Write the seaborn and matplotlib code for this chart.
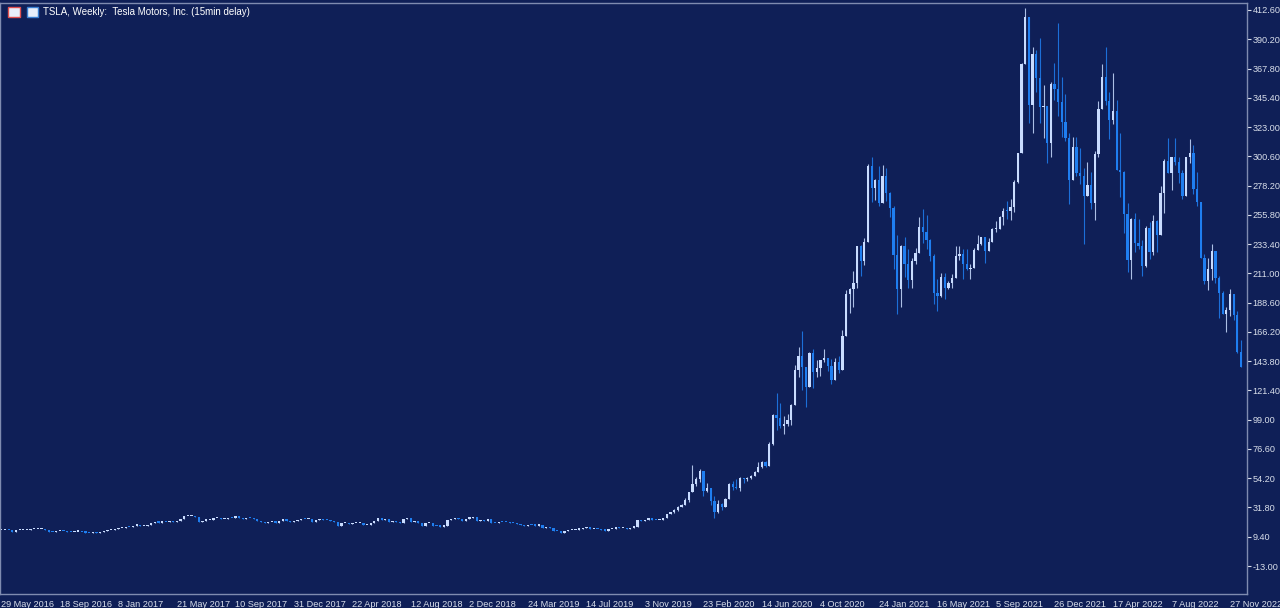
import matplotlib
matplotlib.use("Agg")
import matplotlib.pyplot as plt
import seaborn as sns
import numpy as np
from matplotlib.patches import Rectangle

# weekly closes, split adjusted, from week of 29 May 2016
closes_2016 = [14.5, 14.6, 14.4, 12.9, 14.4, 14.4, 14.6, 14.8, 15.0, 15.0, 15.0, 15.0, 14.2, 13.3, 13.1, 13.7,
               13.7, 13.6, 13.1, 13.0, 13.3, 13.3, 12.7, 12.6, 12.4, 13.1, 12.1, 12.8, 13.5, 14.2, 14.2]
closes_2017 = [15.3, 15.9, 16.3, 16.8, 16.7, 17.9, 18.1, 17.5, 17.5, 18.5, 20.1, 20.3, 20.2, 20.9, 20.6, 21.6,
               20.7, 21.8, 22.6, 24.9, 24.9, 25.0, 24.2, 20.8, 21.8, 21.9, 22.4, 23.8, 23.9, 23.1, 23.2, 23.7,
               23.4, 25.3, 23.4, 22.7, 23.8, 23.7, 23.0, 21.4, 20.3, 20.1, 20.8, 21.0, 20.2, 21.1, 22.9, 21.8, 20.7]
closes_2018 = [21.2, 22.4, 23.3, 22.7, 22.9, 20.7, 22.4, 23.3, 22.4, 22.1, 21.4, 20.3, 17.7, 19.9, 20.0, 19.3,
               19.6, 19.7, 20.1, 18.4, 18.5, 19.8, 21.2, 23.9, 22.2, 22.9, 20.6, 21.2, 20.9, 19.9, 23.2, 23.7,
               20.4, 21.5, 20.1, 17.5, 19.8, 19.9, 17.6, 17.5, 17.2, 17.3, 22.0, 23.1, 23.4, 23.0, 21.8, 23.3,
               23.9, 24.4, 21.3, 22.2]
closes_2019 = [21.2, 23.1, 20.1, 19.8, 20.9, 20.7, 20.5, 19.7, 19.6, 19.0, 18.4, 17.7, 18.7, 18.5, 17.9, 18.3,
               15.8, 17.1, 15.9, 14.1, 13.9, 12.4, 13.6, 14.3, 14.7, 14.9, 15.5, 16.3, 17.1, 15.2, 15.6, 15.1,
               14.6, 14.1, 15.1, 15.2, 16.5, 16.0, 16.1, 15.5, 16.4, 17.1, 21.9, 21.1, 22.4, 23.5, 22.2, 22.0,
               22.4, 23.8, 26.9, 28.7]
closes_2020 = [29.5, 31.9, 34.0, 37.6, 43.4, 49.9, 53.3, 60.1, 44.5, 46.9, 36.4, 28.5, 34.3, 32.0, 38.2, 50.1,
               47.7, 46.8, 54.6, 53.3, 54.7, 55.7, 59.0, 62.4, 66.7, 63.7, 80.6, 102.9, 100.1, 94.5, 95.4, 99.0,
               110.0, 137.3, 147.6, 139.4, 124.2, 150.4, 135.8, 138.4, 144.9, 146.6, 140.4, 129.3, 143.3, 136.7,
               163.2, 195.3, 199.3, 203.3, 231.7, 220.6, 235.2]
closes_2021 = [293.3, 276.0, 282.2, 264.5, 285.9, 272.8, 260.9, 225.2, 199.3, 231.6, 218.3, 206.2, 220.6, 226.5,
               246.3, 243.0, 236.5, 224.0, 196.2, 193.5, 208.4, 199.7, 203.4, 207.8, 224.5, 226.0, 218.0, 214.4,
               215.4, 229.1, 233.3, 239.1, 227.9, 235.3, 244.6, 245.1, 253.9, 258.5, 258.4, 262.0, 281.0, 303.2,
               371.3, 407.4, 339.5, 379.0, 360.6, 338.3, 339.0, 310.9, 355.7, 352.3]
closes_2022 = [342.3, 326.6, 314.6, 282.1, 308.0, 287.6, 285.7, 269.9, 279.0, 265.1, 302.6, 336.9, 361.5, 342.7,
               328.3, 335.0, 290.3, 288.5, 256.5, 221.3, 252.8, 234.5, 232.2, 216.8, 245.7, 227.3, 250.8, 240.1,
               272.2, 297.1, 288.2, 300.0, 296.1, 288.1, 270.2, 299.7, 303.4, 275.3, 265.3, 223.1, 205.0, 214.4,
               228.5, 207.5, 196.0, 180.2, 182.9, 194.9, 179.0, 151.0, 139.0]

# weekly highs / lows from Jan 2020 on (earlier wicks are below one pixel)
highs_2020_22 = [30.3, 33.2, 34.3, 39.0, 43.5, 64.6, 55.0, 61.4, 58.5, 50.8, 45.6, 40.6, 37.7, 35.6, 39.4, 50.5,
                 52.0, 53.9, 55.0, 54.3, 55.5, 56.5, 60.0, 66.3, 67.0, 67.3, 81.6, 103.0, 119.7, 112.0, 101.5,
                 103.3, 111.0, 140.8, 154.6, 166.7, 134.0, 150.9, 153.0, 144.9, 144.9, 153.1, 146.6, 145.1, 146.6,
                 147.4, 167.5, 198.6, 199.6, 212.5, 231.7, 232.6, 238.3,
                 294.8, 300.1, 283.3, 293.5, 293.6, 291.7, 273.0, 262.4, 240.4, 233.0, 238.7, 229.4, 223.1, 230.4,
                 253.9, 260.3, 256.0, 237.0, 226.2, 206.8, 211.3, 211.0, 204.9, 210.2, 232.3, 231.7, 229.5, 230.0,
                 217.8, 230.2, 240.7, 239.2, 238.6, 237.7, 246.0, 251.0, 254.6, 260.7, 266.3, 268.0, 282.5, 303.3,
                 371.7, 414.5, 397.4, 384.0, 381.7, 390.9, 355.0, 336.7, 357.7, 372.3,
                 402.7, 361.4, 348.2, 318.5, 315.4, 315.4, 307.0, 291.7, 296.6, 288.7, 305.0, 342.8, 371.6, 384.3,
                 350.0, 364.1, 344.0, 318.5, 289.0, 264.6, 253.5, 257.3, 252.4, 236.7, 247.4, 250.0, 255.6, 252.0,
                 277.7, 298.3, 314.7, 300.4, 314.7, 300.0, 290.0, 299.9, 314.0, 309.2, 288.7, 264.6, 226.0, 222.9,
                 233.8, 227.9, 208.9, 197.5, 185.2, 198.9, 183.8, 182.5, 160.0]
lows_2020_22 = [27.9, 29.3, 32.2, 34.4, 36.0, 44.5, 48.2, 51.6, 40.8, 43.7, 33.6, 23.4, 27.9, 29.8, 33.5, 38.8,
                45.2, 46.0, 44.4, 50.3, 52.1, 53.4, 55.7, 59.5, 62.1, 63.0, 64.0, 80.0, 91.3, 92.6, 88.2, 94.2,
                95.0, 110.0, 131.9, 121.9, 109.0, 124.0, 123.3, 131.3, 132.8, 143.0, 136.5, 126.4, 131.2, 135.1,
                136.7, 164.0, 180.4, 185.3, 199.7, 209.1, 217.4,
                239.1, 266.0, 267.0, 262.7, 264.7, 266.1, 254.0, 214.5, 179.8, 185.3, 207.9, 200.0, 199.7, 217.8,
                227.2, 234.0, 230.0, 220.6, 187.2, 182.3, 193.0, 191.7, 199.0, 199.5, 207.5, 220.9, 207.0, 213.8,
                207.0, 214.9, 230.0, 233.0, 218.9, 228.0, 235.0, 243.0, 245.3, 248.0, 252.5, 251.8, 258.0, 280.2,
                320.6, 372.3, 326.2, 318.7, 350.0, 326.2, 315.0, 295.4, 300.0, 344.0,
                331.3, 315.3, 312.5, 264.0, 290.9, 285.6, 279.2, 233.3, 276.0, 260.4, 252.0, 300.0, 337.3, 340.0,
                313.8, 325.0, 290.0, 269.2, 241.7, 212.2, 206.9, 227.4, 230.0, 208.7, 216.2, 221.7, 225.1, 227.5,
                240.2, 256.9, 288.0, 275.0, 294.3, 280.0, 268.0, 270.6, 295.8, 271.5, 262.5, 223.0, 203.0, 198.6,
                206.2, 203.5, 177.1, 180.2, 166.2, 178.3, 175.3, 150.0, 139.0]

date_labels = ["29 May 2016", "18 Sep 2016", "8 Jan 2017", "21 May 2017", "10 Sep 2017", "31 Dec 2017",
               "22 Apr 2018", "12 Aug 2018", "2 Dec 2018", "24 Mar 2019", "14 Jul 2019", "3 Nov 2019",
               "23 Feb 2020", "14 Jun 2020", "4 Oct 2020", "24 Jan 2021", "16 May 2021", "5 Sep 2021",
               "26 Dec 2021", "17 Apr 2022", "7 Aug 2022", "27 Nov 2022"]
price_ticks = [round(-13.0 + 22.4 * k, 2) for k in range(20)]

closes = np.array(closes_2016 + closes_2017 + closes_2018 + closes_2019 + closes_2020 + closes_2021 + closes_2022)
n = len(closes)
opens = np.concatenate([[closes[0]], closes[:-1]])
highs = np.maximum(opens, closes)
lows = np.minimum(opens, closes)
k0 = n - len(highs_2020_22)
highs[k0:] = np.maximum(highs[k0:], highs_2020_22)
lows[k0:] = np.minimum(lows[k0:], lows_2020_22)

BG = "#0f1f57"
UP = "#c9dcff"
DOWN = "#1f7ef0"
FG = "#d8deea"

sns.set_style("dark", {"axes.facecolor": BG, "figure.facecolor": BG})
plt.rcParams['font.family'] = ['Liberation Sans', 'DejaVu Sans']

fig = plt.figure(figsize=(12.8, 6.08), dpi=100)
ax = fig.add_axes([0.0, 14 / 608, 1247 / 1280, 591 / 608])
ax.set_facecolor(BG)

x = np.arange(n)
up = closes >= opens
cols = np.where(up, UP, DOWN)
ax.vlines(x, lows, highs, colors=cols, linewidth=0.8, alpha=0.85)
body = np.maximum(np.abs(closes - opens), 0.9)
ax.bar(x, body, bottom=np.minimum(opens, closes), width=0.62, color=cols, linewidth=0)

step = 3.645
ax.set_xlim(-1.35 / step, (n - 1) + 6 / step)
ax.set_ylim(-13 - 28 / 1.3065, 412.6 + 7 / 1.3065)

ax.yaxis.tick_right()
ax.set_yticks(price_ticks)
ax.set_yticklabels([f"{v:.2f}" for v in price_ticks], color=FG, fontsize=6.6)
ax.tick_params(axis='y', length=3, color=FG, pad=1)

xt = [16 * k for k in range(len(date_labels))]
ax.set_xticks(xt)
ax.set_xticklabels(date_labels, color=FG, fontsize=6.6, ha='left')
ax.tick_params(axis='x', length=4, color=FG, pad=0)
ax.grid(False)
for s in ax.spines.values():
    s.set_color("#7f8bb0")
    s.set_linewidth(1.0)

# header: two little icons and the symbol text
fig.patches.append(Rectangle((8 / 1280, 1 - 17 / 608), 12 / 1280, 10 / 608, transform=fig.transFigure,
                             facecolor="#e8eefa", edgecolor="#e05050", linewidth=1))
fig.patches.append(Rectangle((27 / 1280, 1 - 17 / 608), 11 / 1280, 10 / 608, transform=fig.transFigure,
                             facecolor="#e8eefa", edgecolor="#3a7fd0", linewidth=1))
fig.text(43 / 1280, 1 - 12 / 608, "TSLA, Weekly:  Tesla Motors, Inc. (15min delay)", color="#ffffff",
         fontsize=7, va='center', ha='left')

fig.savefig("out.png", dpi=100, facecolor=BG)
